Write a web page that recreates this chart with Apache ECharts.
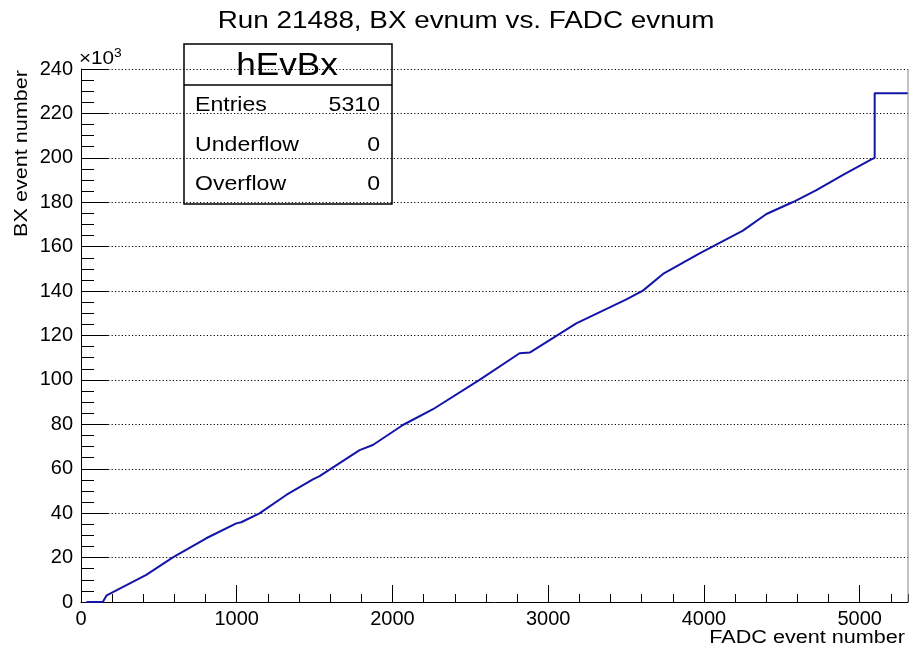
<!DOCTYPE html>
<html>
<head>
<meta charset="utf-8">
<script src="https://cdn.jsdelivr.net/npm/echarts@6/dist/echarts.min.js"></script>
<style>
html,body{margin:0;padding:0;background:#fff;}
#chart{width:909px;height:653px;}
</style>
</head>
<body>
<div id="chart"></div>
<script>
// FADC event number (x) vs BX event number (y)
var fadcEvnum = [35, 140, 165, 419, 590, 804, 997, 1029, 1146, 1318, 1489, 1532, 1789, 1874, 2067, 2260, 2559, 2816, 2881, 3073, 3180, 3502, 3608, 3737, 3972, 4250, 4401, 4572, 4722, 4893, 5075, 5096, 5096, 5310];
var bxEvnum = [0, 0, 3000, 12200, 20100, 28700, 35400, 35900, 39900, 48200, 55200, 56700, 68400, 70700, 79700, 86800, 100000, 112000, 112300, 120700, 125500, 136300, 140200, 147700, 157000, 167200, 174700, 180100, 185500, 192300, 199300, 200000, 229100, 229100];
var statsLabels = ['Entries', 'Underflow', 'Overflow'];
var statsValues = ['5310', '0', '0'];
var histName = 'hEvBx';
var titleText = 'Run 21488, BX evnum vs. FADC evnum';
var xAxisName = 'FADC event number';
var yAxisName = 'BX event number';

var FONT = '"Liberation Sans", Arial, sans-serif';
var pts = fadcEvnum.map(function (x, i) { return [x, bxEvnum[i]]; });

var chart = echarts.init(document.getElementById('chart'), null, {renderer: 'canvas'});

var statsChildren = [
  {type: 'rect', shape: {x: 184, y: 44, width: 208, height: 160}, style: {fill: '#fff', stroke: '#000', lineWidth: 1.5}},
  {type: 'line', shape: {x1: 184, y1: 85, x2: 392, y2: 85}, style: {stroke: '#000', lineWidth: 1.5}},
  {type: 'text', x: 287, y: 66, scaleX: 1.1, style: {text: histName, font: '32px ' + FONT, fill: '#000', textAlign: 'center', textVerticalAlign: 'middle'}}
];
var rowY = [105, 145, 184];
statsLabels.forEach(function (lab, i) {
  statsChildren.push({type: 'text', x: 195, y: rowY[i], scaleX: 1.1, style: {text: lab, font: '21px ' + FONT, fill: '#000', textAlign: 'left', textVerticalAlign: 'middle'}});
  statsChildren.push({type: 'text', x: 380, y: rowY[i], scaleX: 1.1, style: {text: statsValues[i], font: '21px ' + FONT, fill: '#000', textAlign: 'right', textVerticalAlign: 'middle'}});
});

var option = {
  animation: false,
  backgroundColor: '#fff',
  grid: {left: 81, right: 1, top: 69, bottom: 51, containLabel: false},
  xAxis: [{
    type: 'value', min: 0, max: 5310, interval: 1000,
    axisLine: {show: true, onZero: false, lineStyle: {color: '#000', width: 1}},
    axisTick: {show: true, inside: true, length: 17, lineStyle: {color: '#000', width: 1}},
    minorTick: {show: false},
    axisLabel: {show: true, margin: 7, showMaxLabel: false, color: '#000', fontFamily: FONT, fontSize: 20, formatter: function (v) { return String(v); }},
    splitLine: {show: false}
  }, {
    type: 'value', min: 0, max: 5310, interval: 200, position: 'bottom',
    axisLine: {show: false},
    axisTick: {show: true, inside: true, length: 8, lineStyle: {color: '#000', width: 1}},
    axisLabel: {show: false},
    splitLine: {show: false}
  }],
  yAxis: {
    type: 'value', min: 0, max: 240000, interval: 20000,
    axisLine: {show: true, onZero: false, lineStyle: {color: '#000', width: 1}},
    axisTick: {show: true, inside: true, length: 27, lineStyle: {color: '#000', width: 1}},
    minorTick: {show: true, splitNumber: 4, length: 13, lineStyle: {color: '#000', width: 1}},
    axisLabel: {margin: 8, color: '#000', fontFamily: FONT, fontSize: 20, formatter: function (v) { return String(v / 1000); }},
    splitLine: {show: true, lineStyle: {color: '#000', width: 1, type: [1.2, 2.2]}}
  },
  series: [{
    type: 'line', xAxisIndex: 0, data: pts, showSymbol: false, symbol: 'none',
    lineStyle: {color: '#1414a8', width: 2}, z: 3
  }],
  graphic: [
    {type: 'text', x: 466, y: 21, scaleX: 1.16, style: {text: titleText, font: '24px ' + FONT, fill: '#000', textAlign: 'center', textVerticalAlign: 'middle'}, z: 5},
    {type: 'line', shape: {x1: 908, y1: 69, x2: 908, y2: 602}, style: {stroke: '#888', lineWidth: 1}, z: 5},
    {type: 'text', x: 79, y: 59, scaleX: 1.15, style: {text: '×10{sup|3}', rich: {sup: {fontSize: 12, fontFamily: FONT, fill: '#000', verticalAlign: 'top', padding: [0, 0, 10, 0]}}, font: '18px ' + FONT, fill: '#000', textAlign: 'left', textVerticalAlign: 'middle'}, z: 5},
    {type: 'text', x: 905, y: 638, scaleX: 1.2, style: {text: xAxisName, font: '18px ' + FONT, fill: '#000', textAlign: 'right', textVerticalAlign: 'middle'}, z: 5},
    {type: 'text', x: 22, y: 70, rotation: Math.PI / 2, scaleX: 1.2, style: {text: yAxisName, font: '18px ' + FONT, fill: '#000', textAlign: 'right', textVerticalAlign: 'middle'}, z: 5},
    {type: 'group', z: 10, children: statsChildren}
  ]
};
chart.setOption(option);
</script>
</body>
</html>
